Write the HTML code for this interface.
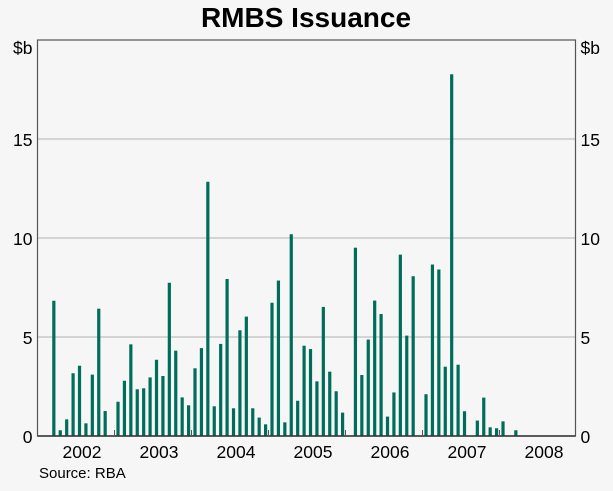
<!DOCTYPE html>
<html><head><meta charset="utf-8"><style>
body{margin:0;background:#f6f6f6;}
svg{display:block;font-family:"Liberation Sans",sans-serif;}
</style></head><body>
<svg id="chart" width="613" height="491" viewBox="0 0 613 491">
<rect x="0" y="0" width="613" height="491" fill="#f6f6f6"/>
<text x="306" y="27" text-anchor="middle" font-size="28" font-weight="bold" fill="#000">RMBS Issuance</text>
<g id="grid"></g><g id="bars"></g><g id="axes"></g>
<text x="39" y="478" font-size="15">Source: RBA</text>
</svg>
<script>
const years = ["2002","2003","2004","2005","2006","2007","2008"];
const yTicks = [0,5,10,15];
const values2002 = [0,0,6.83,0.29,0.84,3.17,3.55,0.64,3.1,6.43,1.26,0];
const values2003 = [1.73,2.79,4.63,2.36,2.41,2.96,3.85,3.03,7.74,4.31,1.95,1.55];
const values2004 = [3.42,4.44,12.84,1.5,4.65,7.93,1.4,5.34,6.03,1.4,0.93,0.59];
const values2005 = [6.73,7.85,0.69,10.19,1.78,4.56,4.39,2.76,6.52,3.25,2.26,1.18];
const values2006 = [0,9.51,3.08,4.87,6.84,6.16,0.98,2.2,9.16,5.07,8.07,0];
const values2007 = [2.11,8.66,8.41,3.5,18.27,3.6,1.25,0,0.78,1.94,0.44,0.39];
const values2008 = [0.74,0,0.29];
const values = [].concat(values2002,values2003,values2004,values2005,values2006,values2007,values2008);

const NS="http://www.w3.org/2000/svg";
const L=37.5,R=575.5,T=40,B=436,yMax=20,yearW=77,m=yearW/12;
const x=i=>L+(i+0.5)*m+0.3;
const y=v=>B-(v/yMax)*(B-T);
function mk(tag,attrs,parent){const e=document.createElementNS(NS,tag);for(const k in attrs)e.setAttribute(k,attrs[k]);parent.appendChild(e);return e;}
const grid=document.getElementById('grid'),bars=document.getElementById('bars'),axes=document.getElementById('axes');
yTicks.forEach(t=>{
  if(t>0){const g=mk('line',{x1:L,x2:R,y1:y(t),y2:y(t),stroke:'#c0c0c0','stroke-width':1.2},grid);
  
  }
  const a=mk('text',{x:L-5,y:y(t)+7,'text-anchor':'end','font-size':17.5},axes);a.textContent=t;
  
  
  const b=mk('text',{x:R+5,y:y(t)+7,'text-anchor':'start','font-size':17.5},axes);b.textContent=t;
  
  
});
[['$b',L-5,'end'],['$b',R+5,'start']].forEach((u,k)=>{const e=mk('text',{x:u[1],y:T+14,'text-anchor':u[2],'font-size':17.5},axes);e.textContent=u[0];
  
  });
values.forEach((v,i)=>{if(v<=0)return;
  const r=mk('rect',{x:x(i)-1.6,y:y(v),width:3.2,height:B-y(v),fill:'#006d5b'},bars);
  
  });
const fr=mk('rect',{x:L,y:T,width:R-L,height:B-T,fill:'none',stroke:'#555','stroke-width':1.2},axes);


const bl=mk('line',{x1:L,x2:R,y1:B,y2:B,stroke:'#333','stroke-width':1.5},axes);


years.forEach((yr,k)=>{
  const x0=L+k*yearW;
  if(k>0){const t=mk('line',{x1:x0,x2:x0,y1:B,y2:B-6,stroke:'#555','stroke-width':1},axes);
  
  }
  const lb=mk('text',{x:x0+yearW/2+6,y:B+22,'text-anchor':'middle','font-size':17.5},axes);lb.textContent=yr;
  
  
});
</script>
</body></html>
